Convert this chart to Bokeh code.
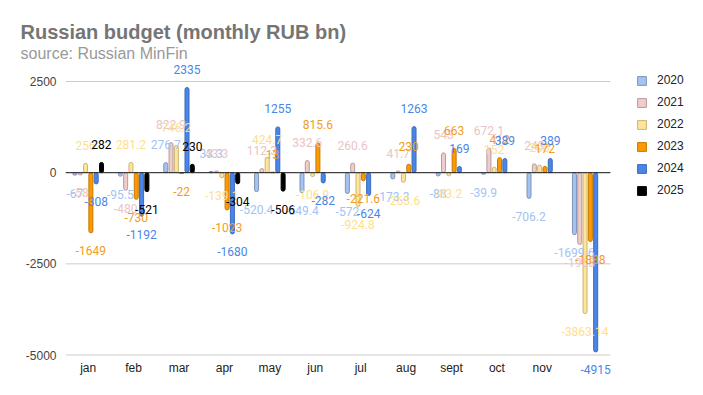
import math
from bokeh.plotting import figure
from bokeh.models import (ColumnDataSource, Range1d, FixedTicker, LabelSet,
                          Legend, LegendItem, Title)
from bokeh.core.properties import value
from bokeh.embed import file_html
from bokeh.resources import INLINE

months = ["jan", "feb", "mar", "apr", "may", "jun", "jul", "aug", "sept", "oct", "nov", "dec"]
month_labels = ["jan", "feb", "mar", "apr", "may", "jun", "jul", "aug", "sept", "oct", "nov", ""]
years = ["2020", "2021", "2022", "2023", "2024", "2025"]
nan = float("nan")
v2020 = [-67, -95.5, 276.7, 33.3, -520.4, -549.4, -572, -173.3, -88, -39.9, -706.2, -1699.6]
v2021 = [-58, -480, 822.9, 43.3, 112.3, 332.6, 260.6, 41.7, 543, 672.1, 243, -1968]
v2022 = [256, 281.2, 746.2, -139.1, 424.7, -106.9, -924.8, -263.6, -83.2, 152, 208, -3863.14]
v2023 = [-1649, -730, -22, -1023, 13, 815.6, -221.6, 230, 663, 412, 172, -1888]
v2024 = [-308, -1192, 2335, -1680, 1255, -282, -624, 1263, 169, 389, 389, -4915]
v2025 = [282, -521, 230, -304, -506, nan, nan, nan, nan, nan, nan, nan]
series = [v2020, v2021, v2022, v2023, v2024, v2025]
yticks = [-5000, -2500, 0, 2500]
ytick_labels = ["-5000", "-2500", "0", "2500"]

fills = ["#a4c2f4", "#f0cccc", "#ffe599", "#ff9900", "#4a86e8", "#000000"]
edges = ["#8193b3", "#b89a9a", "#c9b477", "#c77800", "#3a6bbb", "#000000"]
label_colors = ["#a4c2f4", "#eac4c4", "#ffe08a", "#f29c1e", "#4a86e8", "#000000"]

n = len(months)
xidx = list(range(n))

p = figure(width=703, height=395, output_backend="svg", toolbar_location=None,
           x_range=Range1d(-0.5, 13.55), y_range=Range1d(-5836, 3076),
           min_border_left=65, min_border_right=0, min_border_bottom=10, min_border_top=60)
p.outline_line_color = None
p.background_fill_color = "white"

p.title = Title(text="Russian budget (monthly RUB bn)", text_font="Liberation Sans",
                text_font_size="20px", text_font_style="bold", text_color="#757575",
                align="left", offset=-45, standoff=1)
p.add_layout(Title(text="source: Russian MinFin", text_font="Liberation Sans", text_font_size="16px",
                   text_font_style="normal", text_color="#999999", align="left", offset=-45,
                   standoff=-2), "above")

# horizontal grid lines across the category span
grid_src = ColumnDataSource(dict(y=yticks, x0=[-0.5] * len(yticks), x1=[n - 0.5] * len(yticks)))
p.segment(x0="x0", x1="x1", y0="y", y1="y", source=grid_src, line_color="#cccccc", line_width=1)

slot = 0.117
width = 0.088
items = []
for i, (yr, vals) in enumerate(zip(years, series)):
    off = (i - 2.5) * slot
    txt = ["" if math.isnan(v) else f"{v:g}" for v in vals]
    yoff = [0 if math.isnan(v) else (18 if v >= 0 else -18) for v in vals]
    src = ColumnDataSource(dict(x=[k + off for k in xidx], value=vals, text=txt, yoff=yoff))
    r = p.vbar(x="x", top="value", bottom=0, width=width,
               source=src, fill_color=fills[i], line_color=edges[i], line_width=1,
               border_radius=2)
    items.append(LegendItem(label=yr, renderers=[r]))
    lbl = LabelSet(x="x", y="value", text="text", y_offset="yoff",
                   source=src, text_align="center", text_baseline="middle",
                   text_font=value("Roboto"), text_font_size="12px", text_color=label_colors[i])
    p.add_layout(lbl)

zero_src = ColumnDataSource(dict(y=[0], x0=[-0.5], x1=[n - 0.5]))
p.segment(x0="x0", x1="x1", y0="y", y1="y", source=zero_src, line_color="#222222", line_width=1)

p.xgrid.grid_line_color = None
p.ygrid.grid_line_color = None

p.yaxis.ticker = FixedTicker(ticks=yticks)
p.yaxis.major_label_overrides = {t: l for t, l in zip(yticks, ytick_labels)}
p.yaxis.axis_line_color = None
p.yaxis.major_tick_line_color = None
p.yaxis.minor_tick_line_color = None
p.yaxis.major_tick_out = 0
p.yaxis.major_tick_in = 0
p.yaxis.major_label_standoff = 9
p.yaxis.major_label_text_font = "Liberation Sans"
p.yaxis.major_label_text_font_size = "12px"
p.yaxis.major_label_text_color = "#444444"

p.xaxis.ticker = FixedTicker(ticks=xidx)
p.xaxis.major_label_overrides = {k: l for k, l in zip(xidx, month_labels)}
p.xaxis.axis_line_color = None
p.xaxis.major_tick_line_color = None
p.xaxis.minor_tick_line_color = None
p.xaxis.major_tick_out = 0
p.xaxis.major_tick_in = 0
p.xaxis.major_label_standoff = -25
p.xaxis.major_label_text_font = "Liberation Sans"
p.xaxis.major_label_text_font_size = "12px"
p.xaxis.major_label_text_color = "#222222"

legend = Legend(items=items, location=(571, 188), margin=0, padding=0, spacing=8,
                glyph_width=11, glyph_height=11, label_standoff=10,
                label_text_font="Liberation Sans", label_text_font_size="12px",
                label_text_color="#222222", border_line_color=None, background_fill_alpha=0)
p.add_layout(legend, "center")

open("out.html", "w").write(file_html(p, INLINE))
